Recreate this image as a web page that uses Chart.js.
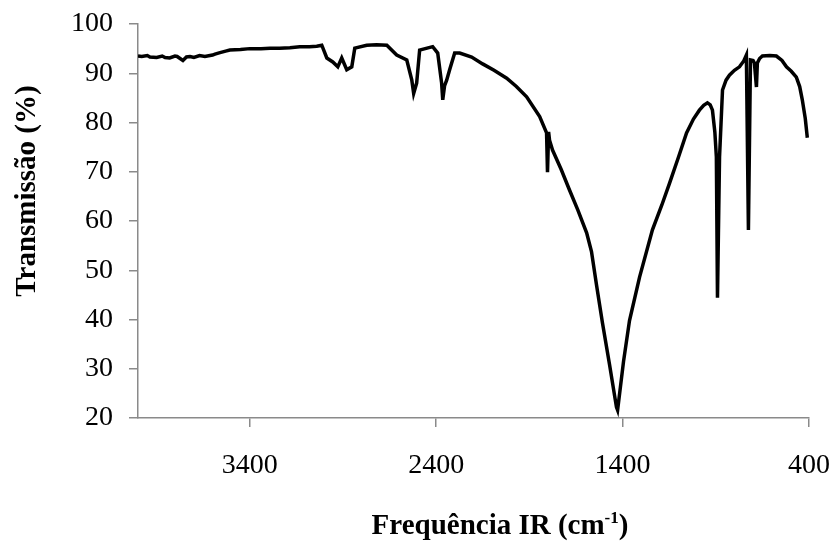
<!DOCTYPE html>
<html>
<head>
<meta charset="utf-8">
<script src="https://cdn.jsdelivr.net/npm/chart.js@4"></script>
<style>
  html, body { margin: 0; padding: 0; background: #fff; }
  #wrap { width: 835px; height: 547px; position: relative; }
</style>
</head>
<body>
<div id="wrap"><canvas id="c" width="835" height="547"></canvas></div>
<script>
// Wavenumber (cm-1)
const wavenumbers = [
  4000, 3980, 3950, 3936, 3900, 3870, 3855, 3830, 3802, 3790, 3759, 3740, 3721, 3700, 3670, 3641,
  3600, 3587, 3560, 3530, 3507, 3450, 3400, 3340, 3292, 3240, 3185, 3132, 3080, 3041, 3014,
  2987, 2955, 2928, 2907, 2880, 2853, 2837, 2773, 2720, 2665, 2612, 2558, 2531, 2521, 2505, 2489,
  2419, 2392, 2371, 2365, 2355, 2344, 2328, 2301, 2274, 2210, 2151, 2090, 2022, 1970, 1915,
  1845, 1808, 1803, 1797, 1792, 1776, 1730, 1685, 1640, 1593, 1567, 1540, 1508, 1470, 1433, 1427,
  1395, 1363, 1309, 1240, 1190, 1148, 1100, 1057, 1020, 988, 965, 945, 930, 918, 905, 897, 891,
  880, 864, 845, 827, 800, 773, 750, 736, 725, 714, 700, 693, 682, 677, 665, 650, 610, 575, 545,
  521, 495, 468, 450, 436, 420, 409
];
// Transmission (%)
const transmission = [
  93.5, 93.4, 93.6, 93.3, 93.2, 93.5, 93.2, 93.1, 93.5, 93.4, 92.6, 93.3, 93.4, 93.2, 93.6, 93.4,
  93.7, 93.9, 94.2, 94.5, 94.7, 94.8, 95.0, 95.0, 95.1, 95.1, 95.2, 95.4, 95.4, 95.5, 95.7,
  93.1, 92.3, 91.3, 93.1, 90.7, 91.3, 95.1, 95.7, 95.8, 95.7, 93.7, 92.7, 88.6, 85.9, 88.0, 94.7,
  95.4, 94.1, 88.0, 84.6, 87.5, 88.6, 90.7, 94.1, 94.1, 93.3, 91.9, 90.6, 89.0, 87.3, 85.2,
  81.2, 77.9, 69.9, 78.1, 76.4, 74.4, 70.5, 66.3, 62.2, 57.6, 53.8, 47.0, 39.3, 30.8, 22.2, 21.6,
  31.5, 39.8, 48.6, 58.2, 63.2, 67.7, 73.0, 77.9, 80.7, 82.5, 83.5, 84.0, 83.6, 82.5, 78.0, 73.0, 44.4,
  73.0, 86.6, 88.6, 89.6, 90.6, 91.3, 92.5, 93.7, 58.2, 92.7, 92.6, 92.1, 87.2, 92.1, 93.0, 93.5, 93.6, 93.5, 92.6,
  91.3, 90.4, 89.2, 87.3, 84.6, 80.8, 76.9
];
const xTickValues = [3400, 2400, 1400, 400];
const yTickValues = [20, 30, 40, 50, 60, 70, 80, 90, 100];
const xTitle = ['Frequência IR (cm', '-1', ')'];
const yTitle = 'Transmissão (%)';

const points = wavenumbers.map((w, i) => ({ x: w, y: transmission[i] }));
const FONT = '"Liberation Serif", "Times New Roman", serif';
const AXIS_COLOR = '#8a8a8a';

const titlePlugin = {
  id: 'axisTitles',
  afterDraw(chart) {
    const ctx = chart.ctx;
    ctx.save();
    ctx.fillStyle = '#000';
    ctx.font = 'bold 29px ' + FONT;
    ctx.textBaseline = 'middle';
    ctx.textAlign = 'center';
    ctx.translate(28, 191);
    ctx.rotate(-Math.PI / 2);
    ctx.fillText(yTitle, 0, 0);
    ctx.restore();

    ctx.save();
    ctx.fillStyle = '#000';
    ctx.textBaseline = 'alphabetic';
    ctx.textAlign = 'left';
    const mainFont = 'bold 29px ' + FONT;
    const supFont = 'bold 17px ' + FONT;
    ctx.font = mainFont;
    const w1 = ctx.measureText(xTitle[0]).width;
    const w3 = ctx.measureText(xTitle[2]).width;
    ctx.font = supFont;
    const w2 = ctx.measureText(xTitle[1]).width;
    const total = w1 + w2 + w3;
    let x = 500 - total / 2;
    const base = 534;
    ctx.font = mainFont;
    ctx.fillText(xTitle[0], x, base); x += w1;
    ctx.font = supFont;
    ctx.fillText(xTitle[1], x, base - 11); x += w2;
    ctx.font = mainFont;
    ctx.fillText(xTitle[2], x, base);
    ctx.restore();
  }
};

new Chart(document.getElementById('c'), {
  type: 'scatter',
  data: {
    datasets: [{
      data: points,
      showLine: true,
      borderColor: '#000',
      borderWidth: 3.5,
      pointRadius: 0,
      tension: 0,
      fill: false
    }]
  },
  options: {
    responsive: false,
    animation: false,
    events: [],
    layout: { padding: { left: 0, top: 24, right: 26, bottom: 0 } },
    plugins: { legend: { display: false }, tooltip: { enabled: false }, title: { display: false } },
    scales: {
      x: {
        type: 'linear',
        reverse: true,
        min: 400,
        max: 4000,
        afterBuildTicks: (axis) => { axis.ticks = xTickValues.map(v => ({ value: v })); },
        afterFit: (axis) => { axis.height = 129; axis.paddingLeft = 0; axis.paddingRight = 0; },
        grid: { display: true, drawOnChartArea: false, drawTicks: true, tickLength: 9, color: AXIS_COLOR, lineWidth: 1.5 },
        border: { display: true, color: AXIS_COLOR, width: 1.5 },
        ticks: { color: '#000', font: { family: FONT, size: 28 }, padding: 22, maxRotation: 0, autoSkip: false,
                 callback: (v) => String(v) }
      },
      y: {
        type: 'linear',
        min: 20,
        max: 100,
        afterBuildTicks: (axis) => { axis.ticks = yTickValues.map(v => ({ value: v })); },
        afterFit: (axis) => { axis.width = 138; axis.paddingTop = 0; axis.paddingBottom = 0; },
        grid: { display: true, drawOnChartArea: false, drawTicks: true, tickLength: 9, color: AXIS_COLOR, lineWidth: 1.5 },
        border: { display: true, color: AXIS_COLOR, width: 1.5 },
        ticks: { color: '#000', font: { family: FONT, size: 28 }, padding: 16, autoSkip: false,
                 callback: (v) => String(v) }
      }
    }
  },
  plugins: [titlePlugin]
});
</script>
</body>
</html>
